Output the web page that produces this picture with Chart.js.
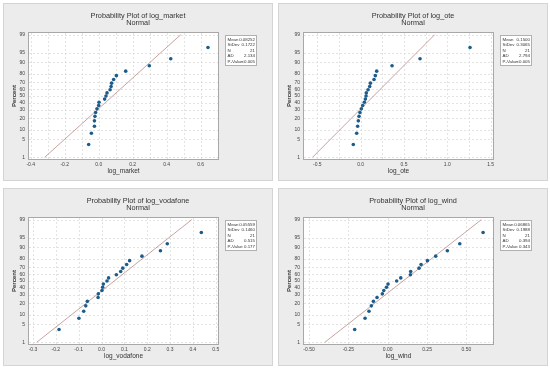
<!DOCTYPE html>
<html><head><meta charset="utf-8">
<script src="https://cdn.jsdelivr.net/npm/chart.js@4"></script>
<style>
body{margin:0;background:#fff;width:550px;height:370px;overflow:hidden;position:relative}
.p{position:absolute;width:270px;height:178px}
canvas{position:absolute;left:0;top:0}
</style></head><body>
<div class="p" style="left:3px;top:3px"><canvas id="c1" width="270" height="178"></canvas></div>
<div class="p" style="left:278px;top:3px"><canvas id="c2" width="270" height="178"></canvas></div>
<div class="p" style="left:3px;top:188px"><canvas id="c3" width="270" height="178"></canvas></div>
<div class="p" style="left:278px;top:188px"><canvas id="c4" width="270" height="178"></canvas></div>
<script>
// ---- data ----
const percentTicks=[1,5,10,20,30,40,50,60,70,80,90,95,99];
const plotPercents=[3.3,7.9,12.6,17.3,22.0,26.6,31.3,36.0,40.7,45.3,50.0,54.7,59.3,64.0,68.7,73.4,78.0,82.7,87.4,92.1,96.7];
const statLabels=["Mean","StDev","N","AD","P-Value"];

const marketValues=[-0.059,-0.043,-0.025,-0.025,-0.022,-0.018,-0.010,0.000,0.002,0.035,0.043,0.049,0.067,0.073,0.076,0.088,0.104,0.159,0.298,0.424,0.643];
const marketStats=["0.08252","0.1722","21","2.134","<0.005"];
const marketFit=[-0.318,0.483];
const marketXTicks=[-0.4,-0.2,0,0.2,0.4,0.6];
const marketXLabels=["-0.4","-0.2","0.0","0.2","0.4","0.6"];
const marketXGrid=[-0.4,-0.3,-0.2,-0.1,0,0.1,0.2,0.3,0.4,0.5,0.6,0.7];

const oteValues=[-0.085,-0.046,-0.035,-0.027,-0.019,-0.008,0.008,0.023,0.042,0.054,0.062,0.065,0.085,0.104,0.112,0.154,0.169,0.185,0.362,0.685,1.262];
const oteStats=["0.1500","0.3065","21","2.794","<0.005"];
const oteFit=[-0.556,0.854];
const oteXTicks=[-0.5,0,0.5,1,1.5];
const oteXLabels=["-0.5","0.0","0.5","1.0","1.5"];
const oteXGrid=[-0.5,-0.25,0,0.25,0.5,0.75,1,1.25,1.5];

const vodafoneValues=[-0.186,-0.099,-0.078,-0.069,-0.062,-0.015,-0.014,0.002,0.005,0.008,0.024,0.031,0.065,0.084,0.093,0.110,0.123,0.177,0.258,0.288,0.437];
const vodafoneStats=["0.05559","0.1460","21","0.515","0.177"];
const vodafoneFit=[-0.284,0.395];
const vodafoneXTicks=[-0.3,-0.2,-0.1,0,0.1,0.2,0.3,0.4,0.5];
const vodafoneXLabels=["-0.3","-0.2","-0.1","0.0","0.1","0.2","0.3","0.4","0.5"];
const vodafoneXGrid=[-0.3,-0.2,-0.1,0,0.1,0.2,0.3,0.4,0.5];

const windValues=[-0.210,-0.144,-0.119,-0.104,-0.091,-0.068,-0.034,-0.025,-0.008,0.002,0.057,0.083,0.144,0.146,0.199,0.212,0.252,0.305,0.379,0.458,0.606];
const windStats=["0.06865","0.1988","21","0.394","0.343"];
const windFit=[-0.400,0.595];
const windXTicks=[-0.5,-0.25,0,0.25,0.5];
const windXLabels=["-0.50","-0.25","0.00","0.25","0.50"];
const windXGrid=[-0.5,-0.25,0,0.25,0.5];

// ---- helpers ----
function probit(p){
 const a=[-3.969683028665376e+01,2.209460984245205e+02,-2.759285104469687e+02,1.383577518672690e+02,-3.066479806614716e+01,2.506628277459239e+00];
 const b=[-5.447609879822406e+01,1.615858368580409e+02,-1.556989798598866e+02,6.680131188771972e+01,-1.328068155288572e+01];
 const c=[-7.784894002430293e-03,-3.223964580411365e-01,-2.400758277161838e+00,-2.549732539343734e+00,4.374664141464968e+00,2.938163982698783e+00];
 const d=[7.784695709041462e-03,3.224671290700398e-01,2.445134137142996e+00,3.754408661907416e+00];
 const pl=0.02425,ph=1-pl;let q,r;
 if(p<pl){q=Math.sqrt(-2*Math.log(p));return (((((c[0]*q+c[1])*q+c[2])*q+c[3])*q+c[4])*q+c[5])/((((d[0]*q+d[1])*q+d[2])*q+d[3])*q+1);}
 if(p<=ph){q=p-0.5;r=q*q;return (((((a[0]*r+a[1])*r+a[2])*r+a[3])*r+a[4])*r+a[5])*q/(((((b[0]*r+b[1])*r+b[2])*r+b[3])*r+b[4])*r+1);}
 q=Math.sqrt(-2*Math.log(1-p));return -(((((c[0]*q+c[1])*q+c[2])*q+c[3])*q+c[4])*q+c[5])/((((d[0]*q+d[1])*q+d[2])*q+d[3])*q+1);
}
const FONT='"Liberation Sans", Arial, sans-serif';
Chart.defaults.font.family=FONT;

function panelPlugin(cfg){return{
 id:'panel',
 beforeDraw(chart){
  const {ctx,width,height,chartArea:a}=chart;
  ctx.save();
  ctx.fillStyle='#ececec';ctx.fillRect(0,0,width,height);
  ctx.strokeStyle='#d4d4d4';ctx.lineWidth=1;ctx.strokeRect(0.5,0.5,width-1,height-1);
  ctx.fillStyle='#ffffff';ctx.fillRect(a.left,a.top,a.right-a.left,a.bottom-a.top);
  ctx.strokeStyle='#dcdcdc';ctx.lineWidth=0.8;ctx.setLineDash([2,2]);
  const xs=chart.scales.x,ys=chart.scales.y;
  cfg.xGrid.forEach(v=>{const px=Math.round(xs.getPixelForValue(v))+0.5;if(px>a.left+1&&px<a.right-1){ctx.beginPath();ctx.moveTo(px,a.top);ctx.lineTo(px,a.bottom);ctx.stroke();}});
  percentTicks.forEach(p=>{const py=Math.round(ys.getPixelForValue(probit(p/100)))+0.5;ctx.beginPath();ctx.moveTo(a.left,py);ctx.lineTo(a.right,py);ctx.stroke();});
  ctx.restore();
 },
 afterDraw(chart){
  const {ctx,width,chartArea:a}=chart;
  ctx.save();
  ctx.strokeStyle='#a8a8a8';ctx.lineWidth=1;
  ctx.strokeRect(Math.round(a.left)-0.5,Math.round(a.top)-0.5,Math.round(a.right-a.left)+1,Math.round(a.bottom-a.top)+1);
  ctx.fillStyle='#333';ctx.textAlign='center';ctx.textBaseline='middle';
  ctx.font='7.3px '+FONT;
  ctx.fillText(cfg.title,width/2,13);
  ctx.fillText('Normal',width/2,20.3);
  ctx.font='6.5px '+FONT;
  ctx.fillText(cfg.xTitle,(a.left+a.right)/2,168.7);
  ctx.save();ctx.translate(11,(a.top+a.bottom)/2);ctx.rotate(-Math.PI/2);
  ctx.font='bold 6px '+FONT;ctx.fillText('Percent',0,0);ctx.restore();
  // stats box
  const bx=222.5,by=32.5,bw=31,bh=30;
  ctx.fillStyle='#fff';ctx.fillRect(bx,by,bw,bh);
  ctx.strokeStyle='#b0b0b0';ctx.lineWidth=1;ctx.strokeRect(bx,by,bw,bh);
  ctx.font='4.4px '+FONT;ctx.fillStyle='#333';
  statLabels.forEach((l,i)=>{const y=by+4.2+i*5.5;ctx.textAlign='left';ctx.fillText(l,bx+2,y);ctx.textAlign='right';ctx.fillText(cfg.stats[i],bx+bw-1.5,y);});
  ctx.restore();
 }
}}

function makeChart(id,cfg){
 return new Chart(document.getElementById(id),{
  type:'scatter',
  data:{datasets:[
   {data:cfg.values.map((v,i)=>({x:v,y:probit(plotPercents[i]/100)})),pointRadius:1.8,pointHoverRadius:1.8,backgroundColor:'#1b5c8a',borderWidth:0,order:1},
   {data:[{x:cfg.fit[0],y:probit(0.01)},{x:cfg.fit[1],y:probit(0.99)}],showLine:true,borderColor:'#bb8c88',borderWidth:0.8,pointRadius:0,order:2}
  ]},
  options:{
   responsive:false,animation:false,devicePixelRatio:1,
   layout:{padding:{left:0,top:30,right:55,bottom:0}},
   plugins:{legend:{display:false},tooltip:{enabled:false},title:{display:false}},
   scales:{
    x:{type:'linear',min:cfg.xMin,max:cfg.xMax,grid:{display:false,drawTicks:false},border:{display:false},
     afterBuildTicks:s=>{s.ticks=cfg.xTicks.map(v=>({value:v}));},
     afterFit:s=>{s.height=22;},
     ticks:{autoSkip:false,maxRotation:0,padding:3,color:'#444',font:{size:5},callback:(v,i)=>cfg.xLabels[i]}},
    y:{type:'linear',min:-2.39,max:2.39,grid:{display:false,drawTicks:false},border:{display:false},
     afterBuildTicks:s=>{s.ticks=percentTicks.map(p=>({value:probit(p/100)}));},
     afterFit:s=>{s.width=26;},
     ticks:{autoSkip:false,padding:4,color:'#444',font:{size:5},callback:(v,i)=>String(percentTicks[i])}}
   }
  },
  plugins:[panelPlugin(cfg)]
 });
}

makeChart('c1',{title:'Probability Plot of log_market',xTitle:'log_market',values:marketValues,stats:marketStats,fit:marketFit,xTicks:marketXTicks,xLabels:marketXLabels,xGrid:marketXGrid,xMin:-0.41,xMax:0.702});
makeChart('c2',{title:'Probability Plot of log_ote',xTitle:'log_ote',values:oteValues,stats:oteStats,fit:oteFit,xTicks:oteXTicks,xLabels:oteXLabels,xGrid:oteXGrid,xMin:-0.654,xMax:1.527});
makeChart('c3',{title:'Probability Plot of log_vodafone',xTitle:'log_vodafone',values:vodafoneValues,stats:vodafoneStats,fit:vodafoneFit,xTicks:vodafoneXTicks,xLabels:vodafoneXLabels,xGrid:vodafoneXGrid,xMin:-0.3175,xMax:0.51});
makeChart('c4',{title:'Probability Plot of log_wind',xTitle:'log_wind',values:windValues,stats:windStats,fit:windFit,xTicks:windXTicks,xLabels:windXLabels,xGrid:windXGrid,xMin:-0.532,xMax:0.669});
</script>
</body></html>
